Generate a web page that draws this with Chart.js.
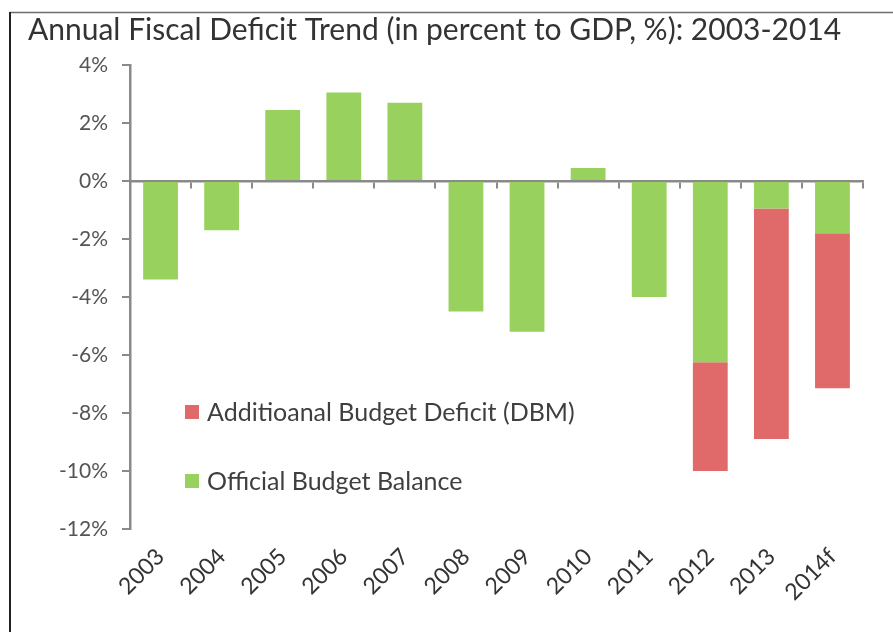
<!DOCTYPE html>
<html>
<head>
<meta charset="utf-8">
<script src="https://cdn.jsdelivr.net/npm/chart.js@4.4.1/dist/chart.umd.min.js"></script>
<style>
html,body{margin:0;padding:0;background:#fff;overflow:hidden}
#wrap{position:relative;width:893px;height:632px}
</style>
</head>
<body>
<div id="wrap"><canvas id="c" width="893" height="632"></canvas></div>
<script>
// ---- data ----
const categories = ['2003','2004','2005','2006','2007','2008','2009','2010','2011','2012','2013','2014f'];
const officialBalance = [-3.4, -1.7, 2.45, 3.05, 2.7, -4.5, -5.2, 0.45, -4.0, -6.25, -0.95, -1.8];
const additionalDeficit = [null, null, null, null, null, null, null, null, null, -3.75, -7.95, -5.35];
const seriesNames = ['Official Budget Balance', 'Additioanal Budget Deficit (DBM)'];
const yMin = -12, yMax = 4, yStep = 2;
const titleText = 'Annual Fiscal Deficit Trend (in percent to GDP, %): 2003-2014';

const GREEN = '#99D15F', RED = '#E06A6A', AXIS = '#8a8a8a';
const FONT = 'Lato';

const framePlugin = {
  id: 'frame',
  beforeDraw(chart) {
    const ctx = chart.ctx;
    ctx.save();
    ctx.fillStyle = '#fff';
    ctx.fillRect(0, 0, chart.width, chart.height);
    ctx.strokeStyle = '#6e6e6e';
    ctx.lineWidth = 1.5;
    ctx.beginPath();
    ctx.moveTo(10, 12.5); ctx.lineTo(chart.width, 12.5);
    ctx.stroke();
    ctx.strokeStyle = '#222';
    ctx.lineWidth = 2;
    ctx.beginPath();
    ctx.moveTo(10, 12); ctx.lineTo(10, chart.height);
    ctx.stroke();
    ctx.restore();
  }
};

const legendPlugin = {
  id: 'inlineLegend',
  afterDraw(chart) {
    const ctx = chart.ctx, a = chart.chartArea;
    const order = [1, 0];
    ctx.save();
    ctx.font = '25px ' + FONT;
    ctx.textBaseline = 'middle';
    order.forEach((di, k) => {
      const ds = chart.data.datasets[di];
      const x = a.left + 55;
      const y = a.top + 347 + k * 69;
      ctx.fillStyle = ds.backgroundColor;
      ctx.fillRect(x, y - 7, 14, 14);
      ctx.fillStyle = '#3f3f3f';
      ctx.fillText(ds.label, x + 22, y + 1);
    });
    ctx.restore();
  }
};

new Chart(document.getElementById('c'), {
  type: 'bar',
  data: {
    labels: categories,
    datasets: [
      { label: seriesNames[0], data: officialBalance, backgroundColor: GREEN, barPercentage: 0.57, categoryPercentage: 1 },
      { label: seriesNames[1], data: additionalDeficit, backgroundColor: RED, barPercentage: 0.57, categoryPercentage: 1 }
    ]
  },
  options: {
    responsive: false,
    animation: false,
    devicePixelRatio: 1,
    layout: { padding: { left: 28, right: 30, top: 0, bottom: 0 } },
    plugins: {
      legend: { display: false },
      tooltip: { enabled: false },
      title: {
        display: true,
        text: titleText,
        align: 'start',
        color: '#333333',
        font: { family: FONT, size: 30, weight: 'normal', lineHeight: 1.2 },
        padding: { top: 12, bottom: 17 }
      }
    },
    scales: {
      x: {
        stacked: true,
        grid: { display: false, drawTicks: false },
        border: { display: false },
        ticks: { minRotation: 45, maxRotation: 45, autoSkip: false, color: '#333333', font: { family: FONT, size: 23 }, padding: 14 },
        afterFit(s) { s.height = 103; }
      },
      x2: {
        type: 'category',
        position: { y: 0 },
        offset: true,
        z: 1,
        ticks: { display: false },
        grid: { drawOnChartArea: false, drawTicks: true, tickLength: 6, color: AXIS, lineWidth: 2, offset: true },
        border: { display: true, color: AXIS, width: 2.5 }
      },
      y: {
        stacked: true,
        min: yMin, max: yMax,
        ticks: { stepSize: yStep, callback: v => v + '%', color: '#555555', font: { family: FONT, size: 21 }, padding: 14 },
        grid: { drawOnChartArea: false, drawTicks: true, tickLength: 8, color: AXIS, lineWidth: 2 },
        border: { display: true, color: AXIS, width: 2.5 },
        afterFit(s) { s.width = 102; }
      }
    }
  },
  plugins: [framePlugin, legendPlugin]
});
</script>
</body>
</html>
